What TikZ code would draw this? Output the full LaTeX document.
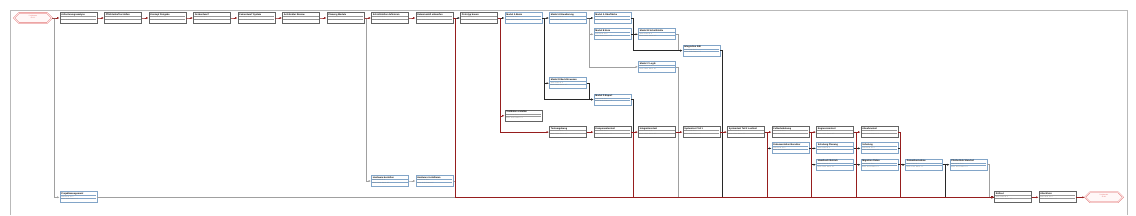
\documentclass[tikz,border=0pt]{standalone}
\usepackage{fontspec}
\setmainfont{Liberation Sans}
\usetikzlibrary{arrows.meta,calc,shapes.symbols}
\definecolor{cCrit}{RGB}{150,30,30}
\definecolor{cDark}{RGB}{40,40,40}
\definecolor{cGray}{RGB}{160,160,160}
\definecolor{cBlue}{RGB}{130,165,200}
\definecolor{cBox}{RGB}{100,100,100}
\definecolor{cHex}{RGB}{225,100,100}
\tikzset{
 x=1pt,y=-1pt,
 box/.style={rectangle,draw=cBox,line width=0.9pt,fill=white,minimum width=37pt,minimum height=11pt,inner sep=0pt},
 bluebox/.style={box,draw=cBlue},
 ttl/.style={inner sep=0pt,font=\fontsize{2.3}{2.5}\selectfont\bfseries,anchor=north west},
 sub/.style={inner sep=0pt,font=\fontsize{1.5}{1.7}\selectfont,text=gray,anchor=north west},
 sepbox/.style={draw=gray!80,line width=0.3pt},
 sepbluebox/.style={draw=cBlue,line width=0.3pt},
 hexs/.style={shape=signal,signal to=west and east,draw=cHex,line width=0.4pt,double=white,double distance=0.5pt,fill=red!3,minimum width=38pt,minimum height=10pt,inner sep=0pt,align=center,text=cHex,font=\fontsize{1.6}{1.9}\selectfont},
 egray/.style={draw=cGray,line width=0.8pt,-{Latex[length=2.4pt,width=2pt]}},
 edark/.style={draw=cDark,line width=0.5pt,-{Latex[length=2.4pt,width=2pt]}},
 ecrit/.style={draw=cCrit,line width=0.5pt,-{Latex[length=2.4pt,width=2pt]}},
 frame/.style={draw=gray!55,line width=1pt}
}
\newcommand\tsk[6]{%
 \node[#4] (#1) at ({78.5+44.5*(#2-1)},{18+16.3*#3}) {};
 \node[ttl] (#1t) at ($(#1.north west)+(1.6,1.2)$) {#5};
 \draw[sep#4] ($(#1.north west)+(1.2,4.1)$) -- ($(#1.north east)+(-1.2,4.1)$);
 \node[sub] (#1a) at ($(#1.north west)+(1.6,4.5)$) {Start: 0#6.03.  ID: #6};
 \draw[sep#4] ($(#1.north west)+(1.2,6.6)$) -- ($(#1.north east)+(-1.2,6.6)$);
 \node[sub] (#1b) at ($(#1.north west)+(1.6,7.0)$) {Ende: 1#6.03.  Dauer: #6 T};
}
\newcommand\lnk[3]{\draw[#1] (#2.east) -- ++(2,0) |- (#3.west);}
\begin{document}
\begin{tikzpicture}
\useasboundingbox (0,0) rectangle (1136,215);
\draw[frame] (10,215) -- (10,10) -- (1127,10) -- (1127,215);
% start / end
\node[hexs] (start) at (33,18) {Projektstart\\01.03.\\ };
\node[hexs] (fin) at (1104,197.3) {Projektende\\30.06.\\ };
% row 0
\tsk{n0x1}{1}{0}{box}{Anforderungsanalyse}{1}
\tsk{n0x2}{2}{0}{box}{Pflichtenheft erstellen}{2}
\tsk{n0x3}{3}{0}{box}{Konzept Freigabe}{3}
\tsk{n0x4}{4}{0}{box}{Grobentwurf}{4}
\tsk{n0x5}{5}{0}{box}{Feinentwurf System}{5}
\tsk{n0x6}{6}{0}{box}{Architektur Review}{6}
\tsk{n0x7}{7}{0}{box}{Planung Module}{7}
\tsk{n0x8}{8}{0}{box}{Schnittstellen definieren}{8}
\tsk{n0x9}{9}{0}{box}{Datenmodell entwerfen}{9}
\tsk{n0x10}{10}{0}{box}{Prototyp bauen}{1}
\tsk{n0x11}{11}{0}{bluebox}{Modul A Basis}{2}
\tsk{n0x12}{12}{0}{bluebox}{Modul A Erweiterung}{3}
\tsk{n0x13}{13}{0}{bluebox}{Modul A Oberfläche}{4}
% upper branches
\tsk{n1x13}{13}{1}{bluebox}{Modul B Kern}{5}
\tsk{n1x14}{14}{1}{bluebox}{Modul B Schnittstelle}{6}
\tsk{n2x15}{15}{2}{bluebox}{Integration A/B}{7}
\tsk{n3x14}{14}{3}{bluebox}{Modul C Logik}{8}
\tsk{n4x12}{12}{4}{bluebox}{Modul D Berichtswesen}{9}
\tsk{n5x13}{13}{5}{bluebox}{Modul D Export}{1}
\tsk{n6x11}{11}{6}{box}{Testdaten erstellen}{2}
% row 7
\tsk{n7x12}{12}{7}{box}{Testumgebung}{3}
\tsk{n7x13}{13}{7}{box}{Komponententest}{4}
\tsk{n7x14}{14}{7}{box}{Integrationstest}{5}
\tsk{n7x15}{15}{7}{box}{Systemtest Teil 1}{6}
\tsk{n7x16}{16}{7}{box}{Systemtest Teil 2 Lasttest}{7}
\tsk{n7x17}{17}{7}{box}{Fehlerbehebung}{8}
\tsk{n7x18}{18}{7}{box}{Regressionstest}{9}
\tsk{n7x19}{19}{7}{box}{Abnahmetest}{1}
% rows 8, 9
\tsk{n8x17}{17}{8}{bluebox}{Dokumentation Benutzer}{2}
\tsk{n8x18}{18}{8}{bluebox}{Schulung Planung}{3}
\tsk{n8x19}{19}{8}{bluebox}{Schulung}{4}
\tsk{n9x18}{18}{9}{bluebox}{Handbuch Betrieb}{5}
\tsk{n9x19}{19}{9}{bluebox}{Migration Daten}{6}
\tsk{n9x20}{20}{9}{bluebox}{Datenübernahme}{7}
\tsk{n9x21}{21}{9}{bluebox}{Pilotbetrieb Standort}{8}
% row 10, 11
\tsk{n10x8}{8}{10}{bluebox}{Hardware bestellen}{9}
\tsk{n10x9}{9}{10}{bluebox}{Hardware installieren}{1}
\tsk{n11x1}{1}{11}{bluebox}{Projektmanagement}{2}
\tsk{n11x22}{22}{11}{box}{Rollout}{3}
\tsk{n11x23}{23}{11}{box}{Abschluss}{4}
% gray connectors
\lnk{egray}{start}{n11x1}
\draw[egray] (n11x1.east) -- (n11x22.west);
\lnk{egray}{n0x7}{n10x8}
\lnk{egray}{n10x8}{n10x9}
\lnk{egray}{n10x9}{n11x22}
\lnk{egray}{n0x12}{n1x13}
\lnk{egray}{n0x12}{n3x14}
\lnk{egray}{n1x14}{n2x15}
\lnk{egray}{n3x14}{n11x22}
\lnk{egray}{n9x21}{n11x22}
% dark connectors
\lnk{edark}{n4x12}{n5x13}
\lnk{edark}{n0x9}{n0x10}
\lnk{edark}{n0x10}{n0x11}
\lnk{edark}{n0x11}{n0x12}
\lnk{edark}{n0x12}{n0x13}
\lnk{edark}{n0x11}{n4x12}
\lnk{edark}{n0x11}{n5x13}
\lnk{edark}{n0x13}{n2x15}
\lnk{edark}{n1x13}{n1x14}
\lnk{edark}{n5x13}{n11x22}
\lnk{edark}{n2x15}{n11x22}
\lnk{edark}{n7x16}{n8x17}
\lnk{edark}{n7x17}{n8x18}
\lnk{edark}{n7x17}{n9x18}
\lnk{edark}{n7x18}{n8x19}
\lnk{edark}{n7x18}{n9x19}
\lnk{edark}{n8x17}{n11x22}
\lnk{edark}{n8x18}{n11x22}
\lnk{edark}{n9x18}{n11x22}
\lnk{edark}{n8x19}{n11x22}
\lnk{edark}{n9x19}{n9x20}
\lnk{edark}{n7x19}{n9x20}
\lnk{edark}{n9x20}{n9x21}
\lnk{edark}{n9x20}{n11x22}
% critical connectors
\lnk{ecrit}{start}{n0x1}
\lnk{ecrit}{n0x1}{n0x2}
\lnk{ecrit}{n0x2}{n0x3}
\lnk{ecrit}{n0x3}{n0x4}
\lnk{ecrit}{n0x4}{n0x5}
\lnk{ecrit}{n0x5}{n0x6}
\lnk{ecrit}{n0x6}{n0x7}
\lnk{ecrit}{n0x7}{n0x8}
\lnk{ecrit}{n0x8}{n0x9}
\lnk{ecrit}{n0x9}{n11x22}
\lnk{ecrit}{n0x10}{n6x11}
\lnk{ecrit}{n0x10}{n7x12}
\lnk{ecrit}{n7x12}{n7x13}
\lnk{ecrit}{n7x13}{n7x14}
\lnk{ecrit}{n7x14}{n7x15}
\lnk{ecrit}{n7x15}{n7x16}
\lnk{ecrit}{n7x16}{n7x17}
\lnk{ecrit}{n7x17}{n7x18}
\lnk{ecrit}{n7x18}{n7x19}
\lnk{ecrit}{n7x13}{n11x22}
\lnk{ecrit}{n7x16}{n11x22}
\lnk{ecrit}{n7x17}{n11x22}
\lnk{ecrit}{n7x18}{n11x22}
\lnk{ecrit}{n7x19}{n11x22}
\lnk{ecrit}{n11x22}{n11x23}
\lnk{ecrit}{n11x23}{fin}
\end{tikzpicture}
\end{document}
